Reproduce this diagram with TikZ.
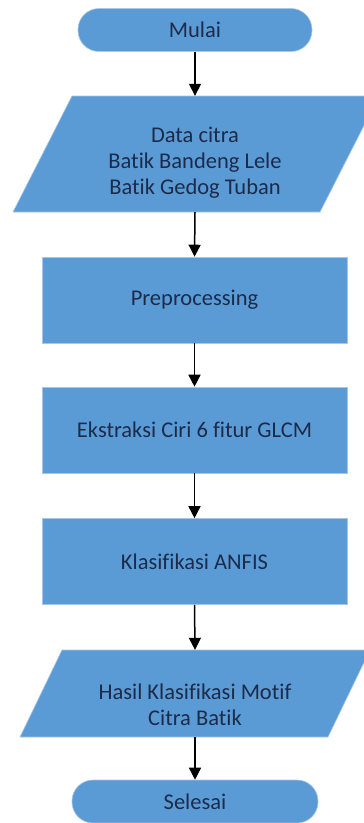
\documentclass[tikz,border=0pt]{standalone}
\usepackage{fontspec}
\setmainfont{Carlito}[Ligatures=CommonOff]
\usetikzlibrary{arrows.meta}
\definecolor{boxfill}{HTML}{5B9BD5}
\definecolor{boxedge}{HTML}{A9C6E8}
\definecolor{txt}{HTML}{1C2B4A}
\begin{document}
\begin{tikzpicture}[x=1pt,y=-1pt,
  lbl/.style={text=txt,font=\fontsize{22.5}{26}\selectfont,align=center,inner sep=0pt},
  pill/.style={lbl,fill=boxfill,draw=boxedge,line width=0.6pt,rounded corners=21pt,minimum width=#1,minimum height=43pt},
  procbox/.style={lbl,fill=boxfill,draw=boxedge,line width=0.6pt,minimum width=305pt,minimum height=86pt},
  slot/.style={inner sep=0pt,minimum width=#1},
  flow/.style={line width=1.5pt,-{Triangle[width=12pt,length=12pt]}},
  para/.style={fill=boxfill,draw=boxedge,line width=0.6pt}
]
\clip (0,0) rectangle (364,823);
\fill[white] (0,0) rectangle (364,823);

% start
\node[pill=234pt] (start) at (195,30) {Mulai};

% input parallelogram
\draw[para] (72,96) -- (379,96) -- (320,212) -- (13,212) -- cycle;
\node[slot=10pt,minimum height=116pt] (in) at (195,154) {};
\node[lbl] (intext) at (195,163) {Data citra\\Batik Bandeng Lele\\Batik Gedog Tuban};

% processes
\node[procbox] (pre) at (194.5,300) {Preprocessing};
\node[procbox] (ext) at (194.5,430) {Ekstraksi Ciri 6 fitur GLCM};
\node[procbox] (cls) at (194.5,561.5) {Klasifikasi ANFIS};

% output parallelogram
\draw[para] (62,650) -- (370,650) -- (328,737) -- (20,737) -- cycle;
\node[slot=10pt,minimum height=87pt] (out) at (195,693.5) {};
\node[lbl] (outtext) at (195,705) {Hasil Klasifikasi Motif\\Citra Batik};

% end
\node[pill=246pt] (stop) at (195,801.5) {Selesai};

% connectors
\draw[flow] (start.south) -- (in.north);
\draw[flow] (in.south) -- (pre.north);
\draw[flow] (pre.south) -- (ext.north);
\draw[flow] (ext.south) -- (cls.north);
\draw[flow] (cls.south) -- (out.north);
\draw[flow] (out.south) -- (stop.north);
\end{tikzpicture}
\end{document}
